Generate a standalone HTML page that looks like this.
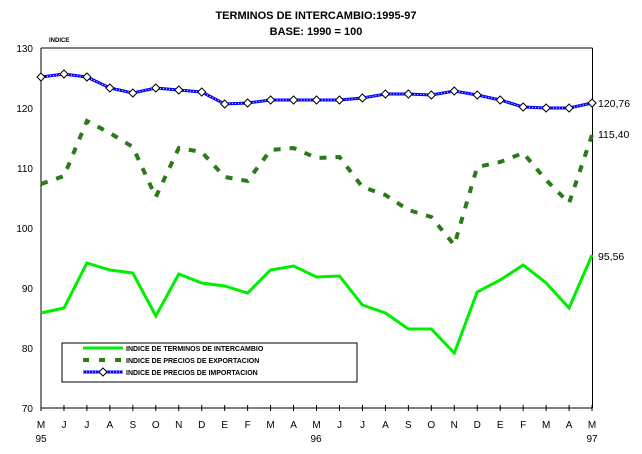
<!DOCTYPE html>
<html><head><meta charset="utf-8"><style>
body{margin:0;background:#fff;}
svg{display:block;font-family:"Liberation Sans",Arial,sans-serif;}
</style></head><body>
<svg width="642" height="454" viewBox="0 0 642 454" xmlns="http://www.w3.org/2000/svg">
<rect width="642" height="454" fill="#fff"/>
<text x="316" y="19" text-anchor="middle" font-size="11" font-weight="bold">TERMINOS DE INTERCAMBIO:1995-97</text>
<text x="316" y="35" text-anchor="middle" font-size="11" font-weight="bold">BASE: 1990 = 100</text>
<text x="49" y="42" font-size="6" font-weight="bold">INDICE</text>
<g stroke="#000" stroke-width="1" fill="none">
<line x1="41" y1="48" x2="592.5" y2="48"/>
<line x1="41" y1="48" x2="41" y2="408"/>
<line x1="592.5" y1="48" x2="592.5" y2="408"/>
<line x1="41" y1="408" x2="592.5" y2="408"/>
</g>
<g font-size="10" text-anchor="end">
<text x="33" y="52">130</text><text x="33" y="112">120</text><text x="33" y="172">110</text>
<text x="33" y="232">100</text><text x="33" y="292">90</text><text x="33" y="352">80</text><text x="33" y="412">70</text>
</g>
<g stroke="#000" stroke-width="1" id="ticks"></g>
<g font-size="10" text-anchor="middle" id="xl"></g>
<g font-size="10" text-anchor="middle">
<text x="41" y="442">95</text><text x="316" y="442">96</text><text x="592" y="442">97</text>
</g>
<g font-size="10.5">
<text x="598" y="107">120,76</text><text x="598" y="138">115,40</text><text x="598" y="260">95,56</text>
</g>
<polyline id="imp" fill="none" stroke="#0000ff" stroke-width="3"/>
<polyline id="imp2" fill="none" stroke="#fff" stroke-width="1" stroke-dasharray="1,2"/>
<polyline id="exp" fill="none" stroke="#2a7a1a" stroke-width="4" stroke-dasharray="7,9"/>
<polyline id="ter" fill="none" stroke="#00ee00" stroke-width="3"/>
<g id="dia" fill="#fff" stroke="#000" stroke-width="1"></g>
<rect x="62" y="343" width="295" height="39" fill="#fff" stroke="#000" stroke-width="1"/>
<line x1="83" y1="348" x2="123" y2="348" stroke="#00ee00" stroke-width="3"/>
<line x1="83" y1="360" x2="123" y2="360" stroke="#2a7a1a" stroke-width="4" stroke-dasharray="6,10"/>
<line x1="83" y1="372" x2="123" y2="372" stroke="#0000ff" stroke-width="3"/>
<line x1="83" y1="372" x2="123" y2="372" stroke="#fff" stroke-width="1" stroke-dasharray="1,2"/>
<path d="M103 368 L107 372 L103 376 L99 372 Z" fill="#fff" stroke="#000"/>
<g font-size="7" font-weight="bold">
<text x="126" y="351">INDICE DE TERMINOS DE INTERCAMBIO</text>
<text x="126" y="363">INDICE DE PRECIOS DE EXPORTACION</text>
<text x="126" y="375">INDICE DE PRECIOS DE IMPORTACION</text>
</g>
</svg>
<script>
var ns="http://www.w3.org/2000/svg";
var X=function(i){return 41+i*22.96;};
var ter=[313,308,263,270,273,316,274,283,286,293,270,266,277,276,305,313,329,329,353,292,280,265,283,308,255];
var exp=[184,176,121,133,147,197,148,152,177,181,150,148,158,157,187,195,210,217,245,167,162,153,180,203,135];
var imp=[77,74,77,88,93,88,90,92,104,103,100,100,100,100,98,94,94,95,91,95,100,107,108,108,103];
function pts(a){return a.map(function(v,i){return X(i).toFixed(1)+","+v;}).join(" ");}
document.getElementById("ter").setAttribute("points",pts(ter));
document.getElementById("exp").setAttribute("points",pts(exp));
document.getElementById("imp").setAttribute("points",pts(imp));
document.getElementById("imp2").setAttribute("points",pts(imp));
var labs="MJJASONDEFMAMJJASONDEFMAM";
var d=document.getElementById("dia"),t=document.getElementById("ticks"),xl=document.getElementById("xl");
for(var i=0;i<25;i++){var x=X(i);
var p=document.createElementNS(ns,"path");p.setAttribute("d","M"+x+" "+(imp[i]-4)+" L"+(x+4)+" "+imp[i]+" L"+x+" "+(imp[i]+4)+" L"+(x-4)+" "+imp[i]+" Z");d.appendChild(p);
var l=document.createElementNS(ns,"line");l.setAttribute("x1",x);l.setAttribute("x2",x);l.setAttribute("y1",405);l.setAttribute("y2",411);t.appendChild(l);
var tx=document.createElementNS(ns,"text");tx.setAttribute("x",x);tx.setAttribute("y",428);tx.textContent=labs[i];xl.appendChild(tx);}
</script>
</body></html>
